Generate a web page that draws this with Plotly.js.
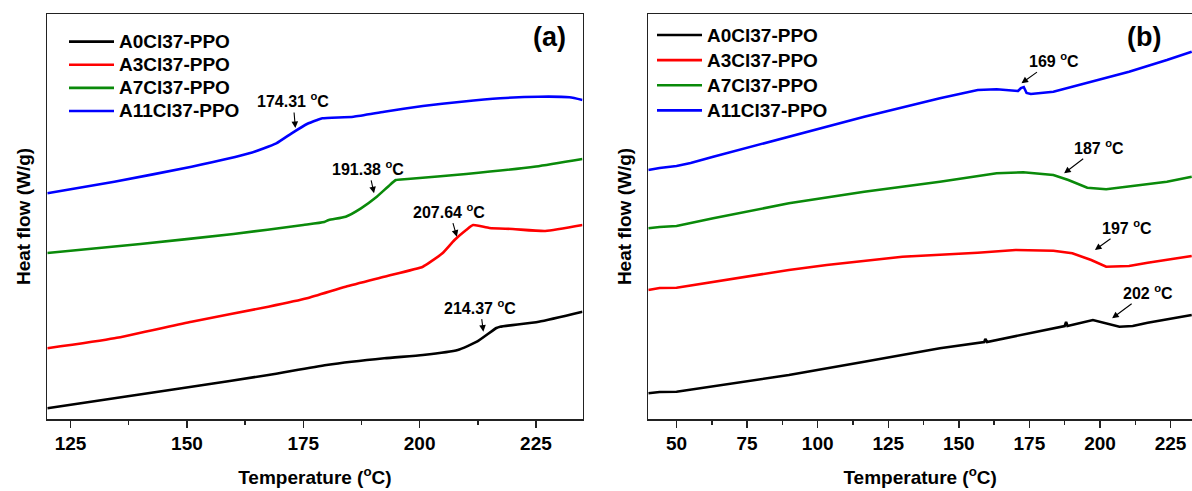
<!DOCTYPE html>
<html>
<head>
<meta charset="utf-8">
<script src="https://cdn.plot.ly/plotly-3.0.1.min.js"></script>
<style>html,body{margin:0;padding:0;background:#fff;}#chart{width:1192px;height:491px;}</style>
</head>
<body>
<div id="chart"></div>
<script>
// ---- Series ----
const seriesNames = ['A0Cl37-PPO', 'A3Cl37-PPO', 'A7Cl37-PPO', 'A11Cl37-PPO'];
const seriesColors = ['#000000', '#ff0000', '#0a8a0a', '#0000ff'];

// ---- Panel (a) ----
const tempA0_a = [120,134.4,151,167.5,180,192.4,200.7,208.2,212.3,216.5,217.3,225.6,235];
const heatA0_a = [10.7,20.7,32.3,44,54,60.7,64,69,77.3,91,92.3,97.3,107.3];
const tempA3_a = [120,134.4,151,167.5,175.8,184.1,192.4,200.7,202.4,204.9,207.5,210,211.5,215,220,227,235];
const heatA3_a = [70.7,80.7,97.3,112.3,120.7,132.3,142.3,152.3,157.3,165.7,179,189,194,191,190,188,194];
const tempA7_a = [120,140,160,175,179.5,180.5,184.1,187.4,190.8,193.2,194.9,197.4,210,225,235];
const heatA7_a = [166,175,185,194,197,199,202.3,210.7,222.3,232.3,239,240,245,252.5,260];
const tempA11_a = [120,134.4,151,163.4,169.2,172.5,175.8,178,179.1,185.8,192.4,200.7,209,217.3,225.6,232.2,235];
const heatA11_a = [225.7,237.3,252.3,265.7,275.7,285.7,295,299,300.7,302.3,307.3,313,317.3,320.7,322.3,321.7,319];

// ---- Panel (b) ----
const tempA0_b = [40,44,50,63,89.8,116.5,143.3,159,159.4,160,170.1,187.5,188,188.5,197.5,202.2,206.9,211.6,216.9,232.5];
const heatA0_b = [25.7,27,27.3,33,44,57.3,70.7,77,80,77,83,93,97,93,99,95.7,92.3,93,96.3,104];
const tempA3_b = [40,44,50,63,89.8,103.2,130,156.7,170.1,183.5,190.2,196.9,202.2,210.3,216.9,232.5];
const heatA3_b = [129,131,131.3,137.3,149,154,162.3,166.3,169,168.3,165.7,159,152.3,153,156.3,163];
const tempA7_b = [40,44,50,63,89.8,116.5,143.3,163.4,172.8,183.5,188.8,195.5,202.2,210.3,223.7,232.5];
const heatA7_b = [190.7,192,193,200.7,215.7,227.3,237.3,245.7,246.7,244,239,231.3,229.7,232.3,237.3,242.3];
const tempA11_b = [40,44,50,55,63,89.8,116.5,143.3,156.7,163.4,171,172,173,174,175.5,183.5,196.9,210.3,223.7,232.5];
const heatA11_b = [249,251,253,256,262.3,282.3,302.3,320.7,329,329.7,328,331,332,326,325,327.3,337.3,347.3,359,367.3];

// Annotations: [label, textX, textY, headX, headY]
const notes_a = [
  ['174.31 <sup>o</sup>C', 172.8, 319, 173.3, 291],
  ['191.38 <sup>o</sup>C', 189.0, 251, 190.2, 225.7],
  ['207.64 <sup>o</sup>C', 206.4, 208.3, 208.0, 182.3],
  ['214.37 <sup>o</sup>C', 213.0, 112.3, 213.7, 87.3]
];
const notes_b = [
  ['169 <sup>o</sup>C', 183.6, 359, 172.2, 335.7],
  ['187 <sup>o</sup>C', 199.7, 272.3, 187.3, 245.7],
  ['197 <sup>o</sup>C', 209.7, 192.3, 198.2, 169],
  ['202 <sup>o</sup>C', 217.0, 127.3, 204.3, 100.7]
];
const panelLabels = ['(a)', '(b)'];

const dataA = [[tempA0_a, heatA0_a],[tempA3_a, heatA3_a],[tempA7_a, heatA7_a],[tempA11_a, heatA11_a]];
const dataB = [[tempA0_b, heatA0_b],[tempA3_b, heatA3_b],[tempA7_b, heatA7_b],[tempA11_b, heatA11_b]];

const FAM = 'Liberation Sans, Arial, sans-serif';
const legendLabel = n => '<span style="font-size:19px">' + n + '</span>';

const traces = [];
dataA.forEach((d, i) => traces.push({
  x: d[0], y: d[1], type: 'scatter', mode: 'lines', name: legendLabel(seriesNames[i]),
  line: {color: seriesColors[i], width: 2.6, shape: 'spline', smoothing: 0.5},
  xaxis: 'x', yaxis: 'y', legend: 'legend'
}));
dataB.forEach((d, i) => traces.push({
  x: d[0], y: d[1], type: 'scatter', mode: 'lines', name: legendLabel(seriesNames[i]),
  line: {color: seriesColors[i], width: 2.6},
  xaxis: 'x2', yaxis: 'y2', legend: 'legend2'
}));

const W = 1192, H = 491;
const frame = '#222';
const tickFont = {family: FAM, size: 19, weight: 'bold', color: '#000'};
const titleFont = {family: FAM, size: 19, weight: 'bold', color: '#000'};
const yDomain = [1 - 419 / H, 1 - 14 / H];

function xAxis(domain, range, anchor) {
  return {
    domain: domain, range: range, anchor: anchor,
    tickmode: 'linear', tick0: 0, dtick: 25,
    ticks: 'outside', ticklen: 7, tickwidth: 1.5, tickcolor: frame,
    minor: {tick0: 0, dtick: 12.5, ticks: 'outside', ticklen: 4, tickwidth: 1.5, tickcolor: frame},
    showline: true, linewidth: 1.5, linecolor: frame, mirror: true,
    showgrid: false, zeroline: false, tickfont: tickFont,
    title: {text: 'Temperature (<sup>o</sup>C)', font: titleFont, standoff: 17}
  };
}
function yAxis(anchor, mirror) {
  return {
    domain: yDomain, range: [0, 405], anchor: anchor,
    showticklabels: false, ticks: '', showgrid: false, zeroline: false,
    showline: true, linewidth: 1.5, linecolor: frame, mirror: mirror,
    title: {text: 'Heat flow (W/g)', font: titleFont, standoff: 10}
  };
}

const annotations = [];
function addNotes(notes, xr, yr) {
  notes.forEach(n => {
    annotations.push({xref: xr, yref: yr, x: n[3], y: n[4], axref: xr, ayref: yr, ax: n[1], ay: n[2],
      text: '<b>' + n[0] + '</b>', showarrow: true, arrowhead: 2, arrowsize: 1.2, arrowwidth: 1.1,
      arrowcolor: '#000', startstandoff: 1,
      font: {family: FAM, size: 16, color: '#000'}});
  });
}
addNotes(notes_a, 'x', 'y');
addNotes(notes_b, 'x2', 'y2');
annotations.push({xref: 'paper', yref: 'paper', x: 549 / W, y: 1 - 36.7 / H, text: '<b>' + panelLabels[0] + '</b>', showarrow: false,
  font: {family: FAM, size: 27, color: '#000'}, xanchor: 'center', yanchor: 'middle'});
annotations.push({xref: 'paper', yref: 'paper', x: 1144 / W, y: 1 - 36.7 / H, text: '<b>' + panelLabels[1] + '</b>', showarrow: false,
  font: {family: FAM, size: 27, color: '#000'}, xanchor: 'center', yanchor: 'middle'});

const layout = {
  width: W, height: H,
  margin: {l: 0, r: 0, t: 0, b: 0},
  paper_bgcolor: '#fff', plot_bgcolor: '#fff',
  font: {family: FAM, color: '#000'},
  showlegend: true,
  xaxis: xAxis([47.3 / W, 582.5 / W], [120, 235], 'y'),
  yaxis: yAxis('x', true),
  xaxis2: xAxis([648.3 / W, 1], [40, 232.6], 'y2'),
  yaxis2: yAxis('x2', false),
  legend: {x: 64 / W, y: 1 - 25 / H, xanchor: 'left', yanchor: 'top', bgcolor: 'rgba(0,0,0,0)', borderwidth: 0,
    font: {family: FAM, size: 15.5, weight: 'bold', color: '#000'}, itemwidth: 45, tracegroupgap: 0},
  legend2: {x: 652 / W, y: 1 - 17.5 / H, xanchor: 'left', yanchor: 'top', bgcolor: 'rgba(0,0,0,0)', borderwidth: 0,
    font: {family: FAM, size: 17, weight: 'bold', color: '#000'}, itemwidth: 45, tracegroupgap: 0},
  annotations: annotations
};

Plotly.newPlot('chart', traces, layout, {displayModeBar: false, staticPlot: true});
</script>
</body>
</html>
